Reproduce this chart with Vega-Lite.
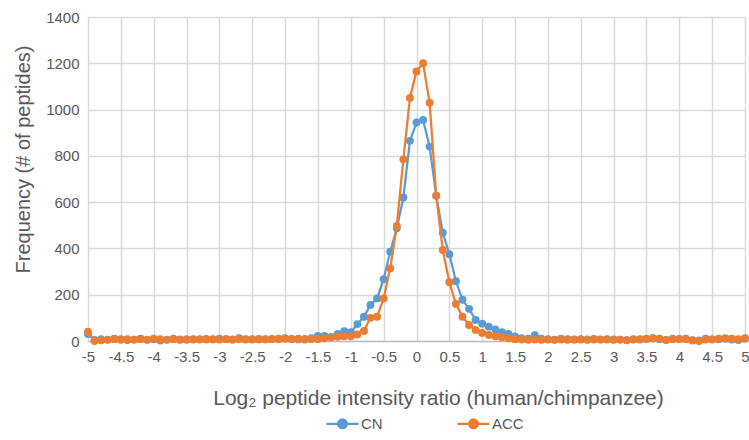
{
  "$schema": "https://vega.github.io/schema/vega-lite/v6.json",
  "width": 657,
  "height": 324,
  "autosize": "none",
  "padding": {"left": 88, "top": 17, "right": 4, "bottom": 99},
  "background": "white",
  "config": {"font": "Liberation Sans", "view": {"stroke": null}},
  "data": {"values": [
    {"r": -5.0, "CN": 30, "ACC": 40}, {"r": -4.9, "CN": 5, "ACC": 0}, {"r": -4.8, "CN": 8, "ACC": 3}, {"r": -4.7, "CN": 6, "ACC": 5}, {"r": -4.6, "CN": 10, "ACC": 8},
    {"r": -4.5, "CN": 8, "ACC": 5}, {"r": -4.4, "CN": 4, "ACC": 8}, {"r": -4.3, "CN": 6, "ACC": 6}, {"r": -4.2, "CN": 10, "ACC": 8}, {"r": -4.1, "CN": 5, "ACC": 6},
    {"r": -4.0, "CN": 8, "ACC": 10}, {"r": -3.9, "CN": 2, "ACC": 8}, {"r": -3.8, "CN": 6, "ACC": 5}, {"r": -3.7, "CN": 10, "ACC": 8}, {"r": -3.6, "CN": 7, "ACC": 5},
    {"r": -3.5, "CN": 5, "ACC": 8}, {"r": -3.4, "CN": 8, "ACC": 6}, {"r": -3.3, "CN": 6, "ACC": 8}, {"r": -3.2, "CN": 9, "ACC": 7}, {"r": -3.1, "CN": 7, "ACC": 8},
    {"r": -3.0, "CN": 10, "ACC": 6}, {"r": -2.9, "CN": 8, "ACC": 8}, {"r": -2.8, "CN": 6, "ACC": 7}, {"r": -2.7, "CN": 12, "ACC": 8}, {"r": -2.6, "CN": 8, "ACC": 6},
    {"r": -2.5, "CN": 6, "ACC": 8}, {"r": -2.4, "CN": 9, "ACC": 7}, {"r": -2.3, "CN": 7, "ACC": 8}, {"r": -2.2, "CN": 8, "ACC": 9}, {"r": -2.1, "CN": 10, "ACC": 8},
    {"r": -2.0, "CN": 12, "ACC": 10}, {"r": -1.9, "CN": 8, "ACC": 9}, {"r": -1.8, "CN": 10, "ACC": 7}, {"r": -1.7, "CN": 6, "ACC": 9}, {"r": -1.6, "CN": 12, "ACC": 8},
    {"r": -1.5, "CN": 22, "ACC": 8}, {"r": -1.4, "CN": 22, "ACC": 12}, {"r": -1.3, "CN": 18, "ACC": 15}, {"r": -1.2, "CN": 30, "ACC": 18}, {"r": -1.1, "CN": 42, "ACC": 20},
    {"r": -1.0, "CN": 38, "ACC": 20}, {"r": -0.9, "CN": 73, "ACC": 28}, {"r": -0.8, "CN": 105, "ACC": 43}, {"r": -0.7, "CN": 156, "ACC": 100}, {"r": -0.6, "CN": 184, "ACC": 105},
    {"r": -0.5, "CN": 267, "ACC": 184}, {"r": -0.4, "CN": 386, "ACC": 314}, {"r": -0.3, "CN": 487, "ACC": 497}, {"r": -0.2, "CN": 620, "ACC": 785}, {"r": -0.1, "CN": 865, "ACC": 1050},
    {"r": 0.0, "CN": 944, "ACC": 1165}, {"r": 0.1, "CN": 955, "ACC": 1200}, {"r": 0.2, "CN": 840, "ACC": 1030}, {"r": 0.3, "CN": 628, "ACC": 628}, {"r": 0.4, "CN": 468, "ACC": 393},
    {"r": 0.5, "CN": 375, "ACC": 254}, {"r": 0.6, "CN": 258, "ACC": 160}, {"r": 0.7, "CN": 178, "ACC": 105}, {"r": 0.8, "CN": 139, "ACC": 69}, {"r": 0.9, "CN": 91, "ACC": 48},
    {"r": 1.0, "CN": 75, "ACC": 35}, {"r": 1.1, "CN": 62, "ACC": 26}, {"r": 1.2, "CN": 50, "ACC": 20}, {"r": 1.3, "CN": 38, "ACC": 16}, {"r": 1.4, "CN": 30, "ACC": 12},
    {"r": 1.5, "CN": 20, "ACC": 8}, {"r": 1.6, "CN": 12, "ACC": 6}, {"r": 1.7, "CN": 10, "ACC": 5}, {"r": 1.8, "CN": 25, "ACC": 6}, {"r": 1.9, "CN": 10, "ACC": 5},
    {"r": 2.0, "CN": 8, "ACC": 6}, {"r": 2.1, "CN": 6, "ACC": 5}, {"r": 2.2, "CN": 10, "ACC": 6}, {"r": 2.3, "CN": 8, "ACC": 5}, {"r": 2.4, "CN": 6, "ACC": 7},
    {"r": 2.5, "CN": 8, "ACC": 6}, {"r": 2.6, "CN": 7, "ACC": 5}, {"r": 2.7, "CN": 9, "ACC": 6}, {"r": 2.8, "CN": 6, "ACC": 7}, {"r": 2.9, "CN": 8, "ACC": 6},
    {"r": 3.0, "CN": 7, "ACC": 5}, {"r": 3.1, "CN": 6, "ACC": 6}, {"r": 3.2, "CN": 4, "ACC": 3}, {"r": 3.3, "CN": 8, "ACC": 6}, {"r": 3.4, "CN": 6, "ACC": 8},
    {"r": 3.5, "CN": 10, "ACC": 9}, {"r": 3.6, "CN": 12, "ACC": 12}, {"r": 3.7, "CN": 8, "ACC": 10}, {"r": 3.8, "CN": 5, "ACC": 4}, {"r": 3.9, "CN": 10, "ACC": 8},
    {"r": 4.0, "CN": 8, "ACC": 9}, {"r": 4.1, "CN": 10, "ACC": 8}, {"r": 4.2, "CN": 4, "ACC": 2}, {"r": 4.3, "CN": 2, "ACC": 0}, {"r": 4.4, "CN": 10, "ACC": 6},
    {"r": 4.5, "CN": 6, "ACC": 8}, {"r": 4.6, "CN": 8, "ACC": 10}, {"r": 4.7, "CN": 10, "ACC": 12}, {"r": 4.8, "CN": 6, "ACC": 10}, {"r": 4.9, "CN": 4, "ACC": 8},
    {"r": 5.0, "CN": 10, "ACC": 12}
  ]},
  "transform": [{"fold": ["CN", "ACC"], "as": ["series", "freq"]}],
  "encoding": {
    "x": {
      "field": "r", "type": "quantitative",
      "scale": {"domain": [-5, 5], "nice": false, "zero": false},
      "axis": {
        "values": [-5, -4.5, -4, -3.5, -3, -2.5, -2, -1.5, -1, -0.5, 0, 0.5, 1, 1.5, 2, 2.5, 3, 3.5, 4, 4.5, 5],
        "labelExpr": "'' + datum.value",
        "title": "Log₂ peptide intensity ratio (human/chimpanzee)",
        "grid": true, "gridColor": "#D9D9D9", "gridWidth": 1.5,
        "domain": true, "domainColor": "#BFBFBF", "domainWidth": 1.5,
        "ticks": false,
        "labelFontSize": 15, "labelColor": "#595959", "labelPadding": 8,
        "labelFlush": false, "labelOverlap": false,
        "titleFontSize": 21, "titleFontWeight": "normal", "titleColor": "#595959",
        "titleX": 350, "titleY": 63, "titleBaseline": "alphabetic", "titleAlign": "center"
      }
    },
    "y": {
      "field": "freq", "type": "quantitative",
      "scale": {"domain": [0, 1400], "nice": false},
      "axis": {
        "values": [0, 200, 400, 600, 800, 1000, 1200, 1400],
        "format": "d",
        "title": "Frequency (# of peptides)",
        "grid": true, "gridColor": "#D9D9D9", "gridWidth": 1.5,
        "domain": false, "ticks": false,
        "labelFontSize": 15, "labelColor": "#595959", "labelPadding": 9,
        "labelFlush": false,
        "titleFontSize": 20, "titleFontWeight": "normal", "titleColor": "#595959",
        "titleX": -59, "titleY": 142, "titleBaseline": "alphabetic", "titleAlign": "center", "titleAngle": -90
      }
    },
    "color": {
      "field": "series", "type": "nominal",
      "scale": {"domain": ["CN", "ACC"], "range": ["#5B9BD5", "#ED7D31"]},
      "legend": {
        "orient": "none", "direction": "horizontal",
        "legendX": 245, "legendY": 397,
        "title": null,
        "symbolType": "M-2,0L2,0M0.55,0A0.55,0.55,0,1,1,-0.55,0A0.55,0.55,0,1,1,0.55,0Z",
        "symbolSize": 256, "symbolStrokeWidth": 2.25,
        "labelFontSize": 15, "labelColor": "#595959", "labelOffset": 9,
        "columnPadding": 70,
        "encode": {"symbols": {"update": {
          "fill": {"scale": "color", "field": "value"},
          "stroke": {"scale": "color", "field": "value"},
          "opacity": {"value": 1}
        }}}
      }
    }
  },
  "layer": [
    {"transform": [{"filter": "datum.series === 'CN'"}], "mark": {"type": "line", "strokeWidth": 2.25}},
    {"transform": [{"filter": "datum.series === 'CN'"}], "mark": {"type": "point", "filled": true, "size": 62, "opacity": 1}},
    {"transform": [{"filter": "datum.series === 'ACC'"}], "mark": {"type": "line", "strokeWidth": 2.25}},
    {"transform": [{"filter": "datum.series === 'ACC'"}], "mark": {"type": "point", "filled": true, "size": 62, "opacity": 1}}
  ]
}
